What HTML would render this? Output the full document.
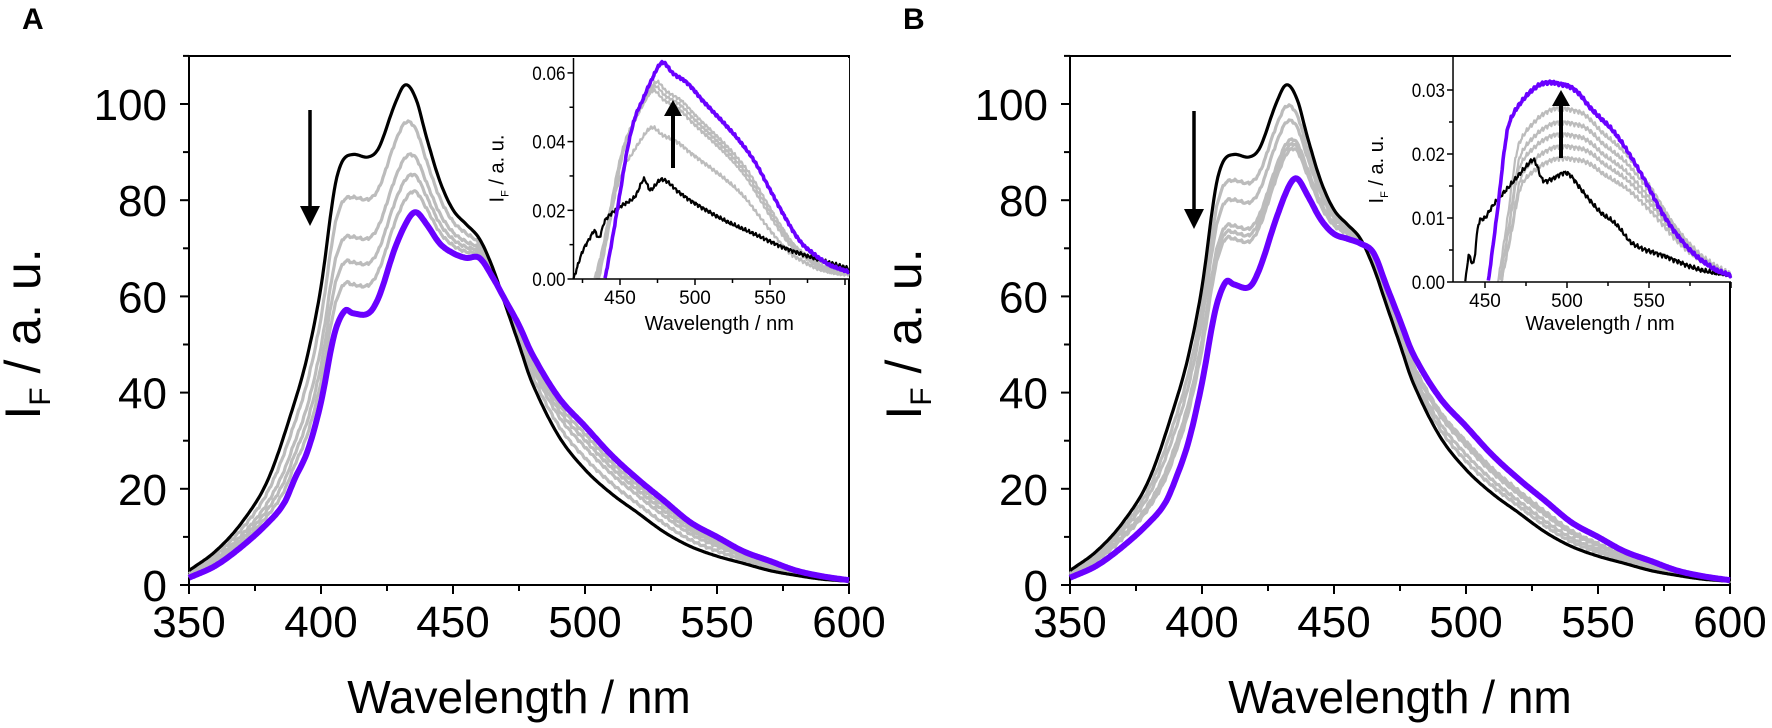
<!DOCTYPE html>
<html><head><meta charset="utf-8"><style>
html,body{margin:0;padding:0;background:#fff}
svg{display:block;font-family:"Liberation Sans",Arial,sans-serif}
</style></head><body>
<svg id="s" width="1772" height="728" viewBox="0 0 1772 728" xmlns="http://www.w3.org/2000/svg">
<text x="22" y="29" font-size="30" font-weight="bold">A</text>
<text x="903" y="29" font-size="30" font-weight="bold">B</text>
</svg>
<script>
const S=document.getElementById('s');const NS='http://www.w3.org/2000/svg';
function el(t,a,txt){const e=document.createElementNS(NS,t);for(const k in a)e.setAttribute(k,a[k]);if(txt!==undefined)e.textContent=txt;S.appendChild(e);return e;}
function interp(p,x){if(x<=p[0][0])return p[0][1];const n=p.length;if(x>=p[n-1][0])return p[n-1][1];
 for(let i=1;i<n;i++){if(x<=p[i][0]){const a=p[i-1],b=p[i];const pa=p[Math.max(0,i-2)],pb=p[Math.min(n-1,i+1)];
  const h=b[0]-a[0],t=(x-a[0])/h;
  const ma=(b[1]-pa[1])/(b[0]-pa[0])*h, mb=(pb[1]-a[1])/(pb[0]-a[0])*h;
  const t2=t*t,t3=t2*t;
  return (2*t3-3*t2+1)*a[1]+(t3-2*t2+t)*ma+(-2*t3+3*t2)*b[1]+(t3-t2)*mb;}}}
function path(fn,x0,x1,X,Y,col,w,step){let d='';for(let x=x0;x<=x1+1e-9;x+=step){const v=fn(x);d+=(d?'L':'M')+X(x).toFixed(1)+','+Y(v).toFixed(1);}el('path',{d:d,fill:'none',stroke:col,'stroke-width':w,'stroke-linejoin':'round'});}
function jit(x,a){return a*(Math.sin(x*2.7)*0.6+Math.sin(x*5.3+1)*0.4);}

function mainPanel(ox,blk,pur,ts){
 const X=w=>ox+(w-350)*2.64, Y=v=>585-v*4.81;
 el('rect',{x:ox,y:56,width:660,height:529,fill:'none',stroke:'#000','stroke-width':2});
 for(let v=0;v<=110;v+=10){const y=Y(v);el('line',{x1:ox,x2:ox-(v%20==0?9:6),y1:y,y2:y,stroke:'#000','stroke-width':2});
  if(v%20==0)el('text',{x:ox-22,y:y+16,'font-size':44,'text-anchor':'end'},String(v));}
 for(let w=350;w<=600;w+=25){const x=X(w);el('line',{x1:x,x2:x,y1:585,y2:585+(w%50==0?9:6),stroke:'#000','stroke-width':2});
  if(w%50==0)el('text',{x:x,y:637,'font-size':44,'text-anchor':'middle'},String(w));}
 el('text',{x:ox+330,y:713,'font-size':46,'text-anchor':'middle'},'Wavelength / nm');
 const t=el('text',{transform:`translate(${ox-149},334) rotate(-90)`,'font-size':50,'text-anchor':'middle'});
 t.innerHTML='I<tspan font-size="30" dy="10">F</tspan><tspan dy="-10"> / a. u.</tspan>';
 const fb=x=>interp(blk,x), fp=x=>interp(pur,x);
 ts.forEach(tt=>path(x=>fb(x)*(1-tt)+fp(x)*tt+jit(x,0.3),350,600,X,Y,'#bcbcbc',3.2,0.5));
 path(fb,350,600,X,Y,'#000',3.2,0.5);
 path(fp,350,600,X,Y,'#6a00ff',6,0.5);
}
function inset(ox0,xsc,y0,ysc,top,xl,xr,ticks,yt,fmt,blk,pur,grays,arrow,xlY){
 const X=w=>ox0+(w-450)*xsc, Y=v=>y0-v*ysc;
 el('rect',{x:X(xl),y:top,width:X(xr)-X(xl),height:y0-top,fill:'#fff',stroke:'none'});
 const fb=x=>interp(blk,x), fp=x=>interp(pur,x);
 grays.forEach(g=>path(x=>Math.max(0,g[0]*fp(x+g[1])+jit(x,g[2])),Math.max(xl,pur[0][0]-g[1]),xr,X,Y,'#bcbcbc',2.2,0.5));
 path(x=>Math.max(0,fb(x)+jit(x,ysc>5000?0.0004:0.0006)),blk[0][0],xr,X,Y,'#000',2.2,0.5);
 path(x=>fp(x)+jit(x,ysc>5000?0.0003:0.0004),pur[0][0],xr,X,Y,'#6a00ff',3.6,0.5);
 el('line',{x1:X(xl),x2:X(xl),y1:top,y2:y0,stroke:'#000','stroke-width':1.5});
 el('line',{x1:X(xl),x2:X(xr),y1:y0,y2:y0,stroke:'#000','stroke-width':1.5});
 yt.forEach((v,i)=>{const y=Y(v);el('line',{x1:X(xl),x2:X(xl)-(i%2==0?6:4),y1:y,y2:y,stroke:'#000','stroke-width':1.5});
  if(i%2==0)el('text',{x:X(xl)-8,y:y+7,'font-size':19,'text-anchor':'end',transform:`translate(${X(xl)-8},0) scale(0.9,1) translate(${-(X(xl)-8)},0)`},v.toFixed(fmt));});
 ticks.forEach(w=>{const x=X(w);el('line',{x1:x,x2:x,y1:y0,y2:y0+(w%50==0?6:4),stroke:'#000','stroke-width':1.5});
  if(w%50==0&&w<600)el('text',{x:x,y:y0+25,'font-size':19,'text-anchor':'middle'},String(w));});
 el('text',{x:(X(xl)+X(xr))/2+8,y:xlY,'font-size':20,'text-anchor':'middle'},'Wavelength / nm');
 const t=el('text',{transform:`translate(${X(xl)-70},${(top+y0)/2}) rotate(-90)`,'font-size':20,'text-anchor':'middle'});
 t.innerHTML='I<tspan font-size="11" dy="5">F</tspan><tspan dy="-5"> / a. u.</tspan>';
 el('line',{x1:arrow[0],x2:arrow[0],y1:arrow[1],y2:arrow[2]+14,stroke:'#000','stroke-width':4});
 el('polygon',{points:`${arrow[0]-9},${arrow[2]+16} ${arrow[0]+9},${arrow[2]+16} ${arrow[0]},${arrow[2]}`,fill:'#000'});
}
function downArrow(x,y1,y2){el('line',{x1:x,x2:x,y1:y1,y2:y2-18,stroke:'#000','stroke-width':3.5});
 el('polygon',{points:`${x-10},${y2-20} ${x+10},${y2-20} ${x},${y2}`,fill:'#000'});}

const blkA=[[350,3],[360,7],[370,13],[380,22],[390,38],[395,48],[400,62],[405,82],[408,88],[412,89.5],[418,89],[422,91],[428,100],[432,104],[436,101],[440,93],[445,84],[450,78],[455,75],[460,72],[465,66],[470,58],[475,50],[480,42],[490,31],[500,24],[510,19],[520,15],[530,11],[540,8],[550,6],[560,4.5],[570,3],[580,2],[590,1.2],[600,0.8]];
const purA=[[350,1.5],[360,4],[370,8],[380,13],[386,17],[390,22],[395,28],[400,38],[405,52],[409,57],[412,56.5],[418,56.5],[422,60],[428,70],[433,76],[436,77.5],[440,75],[445,71],[450,69],[455,68],[460,68],[465,64],[470,59],[475,54],[480,48],[490,39],[500,33],[510,27],[520,22],[530,17.5],[540,13],[550,10],[560,7],[570,5],[580,3],[590,1.8],[600,1]];
const blkB=blkA.map(p=>[p[0],p[1]]);
const purB=[[350,1.5],[360,4],[370,8],[380,13],[386,17],[390,22],[395,30],[400,42],[405,57],[409,63],[412,62.5],[418,62],[422,66],[428,76],[433,83],[436,84.5],[440,81],[445,76],[450,73],[455,72],[460,71],[465,69],[470,62],[475,55],[480,48],[490,39],[500,33],[510,27],[520,22],[530,17.5],[540,13],[550,10],[560,7],[570,5],[580,3],[590,1.8],[600,1]];

mainPanel(189,blkA,purA,[0.27,0.52,0.68,0.82]);
mainPanel(1070,blkB,purB,[0.2,0.35,0.55,0.6,0.65]);
downArrow(310,110,226);
downArrow(1194,111,229);

const iBlkA=[[419,0],[425,0.008],[430,0.012],[433,0.014],[436,0.012],[440,0.017],[450,0.021],[460,0.024],[466,0.029],[470,0.026],[478,0.029],[490,0.025],[500,0.022],[520,0.017],[540,0.013],[560,0.009],[580,0.006],[603,0.003]];
const iPurA=[[440,0],[445,0.012],[450,0.025],[455,0.038],[460,0.047],[465,0.052],[470,0.057],[478,0.063],[485,0.060],[495,0.057],[505,0.052],[520,0.045],[530,0.040],[540,0.034],[550,0.026],[560,0.018],[570,0.011],[580,0.007],[590,0.004],[603,0.002]];
inset(620,1.5,279,3435,58,419,602.7,[425,450,475,500,525,550,575,600],[0,0.01,0.02,0.03,0.04,0.05,0.06],2,iBlkA,iPurA,[[0.91,4,0.0005],[0.89,5,0.0005],[0.87,6,0.0005],[0.7,7,0.0006]],[673,168,100],330);

const iBlkB=[[438,0],[440,0.004],[443,0.003],[446,0.009],[450,0.010],[455,0.012],[465,0.015],[475,0.018],[480,0.019],[485,0.016],[490,0.016],[500,0.017],[510,0.014],[520,0.011],[530,0.009],[540,0.006],[560,0.004],[580,0.002],[600,0.001]];
const iPurB=[[452,0],[458,0.012],[462,0.021],[465,0.025],[475,0.029],[485,0.031],[495,0.031],[505,0.030],[515,0.027],[530,0.023],[545,0.017],[560,0.010],[575,0.005],[590,0.002],[600,0.001]];
inset(1485,1.64,282,6400,57,430.5,600,[450,475,500,525,550,575,600],[0,0.005,0.01,0.015,0.02,0.025,0.03],2,iBlkB,iPurB,[[0.87,-6,0.0004],[0.8,-7,0.0004],[0.74,-7,0.0004],[0.68,-8,0.0004],[0.62,-8,0.0004]],[1561,158,90],330);
</script>
</body></html>
